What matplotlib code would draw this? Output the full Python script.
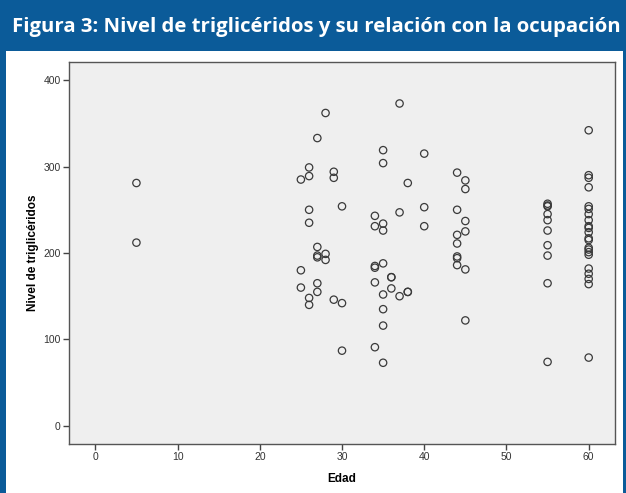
#!/usr/bin/env python3

import matplotlib
matplotlib.use('Agg')
import matplotlib.pyplot as plt
from matplotlib.patches import Rectangle

title = 'Figura 3: Nivel de triglicéridos y su relación con la ocupación'
xlabel = 'Edad'
ylabel = 'Nivel de triglicéridos'

# age -> triglyceride values
edad_5 = [281, 212]
edad_25 = [285, 180, 160]
edad_26 = [299, 289, 250, 235, 148, 140]
edad_27 = [333, 207, 197, 195, 165, 155]
edad_28 = [362, 199, 192]
edad_29 = [294, 287, 146]
edad_30 = [254, 142, 87]
edad_34 = [243, 231, 185, 183, 166, 91]
edad_35 = [319, 304, 234, 226, 188, 152, 135, 116, 73]
edad_36 = [172, 172, 159]
edad_37 = [373, 247, 150]
edad_38 = [281, 155, 155]
edad_40 = [315, 253, 231]
edad_44 = [293, 250, 221, 211, 196, 194, 186]
edad_45 = [284, 274, 237, 225, 181, 122]
edad_55 = [257, 255, 254, 245, 238, 226, 209, 197, 165, 74]
edad_60 = [342, 290, 287, 276, 254, 251, 245, 238, 231, 229, 224, 217, 215,
           206, 204, 201, 198, 182, 176, 170, 164, 79]

groups = [(5, edad_5), (25, edad_25), (26, edad_26), (27, edad_27), (28, edad_28),
          (29, edad_29), (30, edad_30), (34, edad_34), (35, edad_35), (36, edad_36),
          (37, edad_37), (38, edad_38), (40, edad_40), (44, edad_44), (45, edad_45),
          (55, edad_55), (60, edad_60)]

xticks = [0, 10, 20, 30, 40, 50, 60]
yticks = [0, 100, 200, 300, 400]

x = []
y = []
for age, vals in groups:
    for v in vals:
        x.append(age)
        y.append(v)

W, H = 626, 493
fig = plt.figure(figsize=(W / 100, H / 100), dpi=100)
fig.patch.set_facecolor('white')

blue = '#0b5b99'
# title band and frame
fig.patches.append(Rectangle((0, 1 - 51 / H), 1, 51 / H, transform=fig.transFigure,
                             facecolor=blue, edgecolor='none', zorder=0))
fig.patches.append(Rectangle((0, 0), 6 / W, 1, transform=fig.transFigure,
                             facecolor=blue, edgecolor='none', zorder=0))
fig.patches.append(Rectangle((1 - 3 / W, 0), 3 / W, 1, transform=fig.transFigure,
                             facecolor=blue, edgecolor='none', zorder=0))
fig.text(12 / W, 1 - 27 / H, title, color='white', fontsize=14.7, fontweight='bold',
         family='Open Sans', ha='left', va='center')

ax = fig.add_axes([69 / W, 1 - 444 / H, (615 - 69) / W, (444 - 62) / H])
ax.set_facecolor('#efefef')
ax.scatter(x, y, s=28, facecolors='none', edgecolors='#3a3a3a', linewidths=0.9, zorder=3)

ax.set_xlim(-3.2, 63.2)
ax.set_ylim(-21, 421)
ax.set_xticks(xticks)
ax.set_yticks(yticks)
ax.tick_params(direction='out', length=4, width=1, color='#444444', labelsize=7.5,
               labelcolor='#333333', pad=2)
for sp in ax.spines.values():
    sp.set_color('#555555')
    sp.set_linewidth(1)

ax.set_xlabel(xlabel, fontsize=8.5, fontweight='bold', family='Liberation Sans', labelpad=8)
ax.set_ylabel(ylabel, fontsize=8.5, fontweight='bold', family='Liberation Sans', labelpad=3)
for lab in ax.get_xticklabels() + ax.get_yticklabels():
    lab.set_family('Liberation Sans')

plt.savefig('out.png', dpi=100)
